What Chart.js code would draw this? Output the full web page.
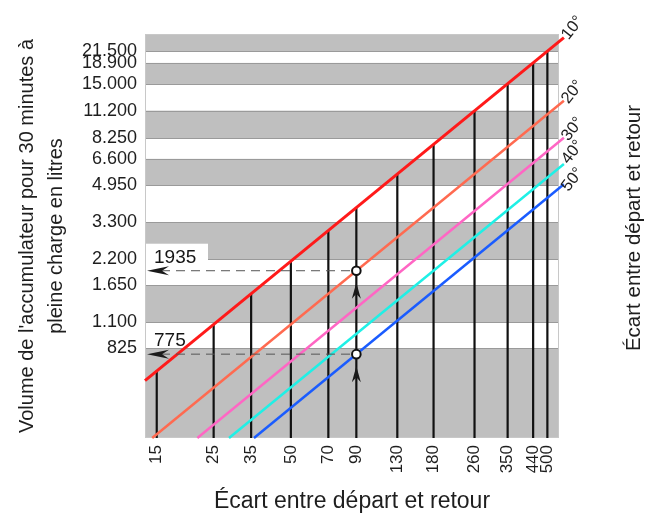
<!DOCTYPE html>
<html>
<head>
<meta charset="utf-8">
<script src="https://cdn.jsdelivr.net/npm/chart.js@4.4.1/dist/chart.umd.min.js"></script>
<style>
html,body{margin:0;padding:0;background:#fff;}
#c{display:block;}
</style>
</head>
<body>
<canvas id="c" width="658" height="515"></canvas>
<script>
// ---- data ----
const xTicks = [15, 25, 35, 50, 70, 90, 130, 180, 260, 350, 440, 500];
const yTicks = [21500, 18900, 15000, 11200, 8250, 6600, 4950, 3300, 2200, 1650, 1100, 825];
// top of each vertical drop line (where it meets the 10° line)
const dropTops = [645, 1075, 1505, 2150, 3010, 3870, 5590, 7740, 11180, 15050, 18920, 21500];
const seriesNames = ['10°', '20°', '30°', '40°', '50°'];
const line10 = [{x: 13.5, y: 580}, {x: 580, y: 24940}];
const line20 = [{x: 14.4, y: 309}, {x: 580, y: 12470}];
const line30 = [{x: 21.6, y: 309}, {x: 580, y: 8310}];
const line40 = [{x: 28.7, y: 309}, {x: 580, y: 6240}];
const line50 = [{x: 35.9, y: 309}, {x: 580, y: 4990}];
const markX = 90;
const markValues = [1935, 775];
const yTitle = ["Volume de l'accumulateur pour 30 minutes à", 'pleine charge en litres'];
const xTitle = 'Écart entre départ et retour';
const rightTitle = 'Écart entre départ et retour';

// ---- styles ----
const X_MIN = 13.5, X_MAX = 555, Y_MIN = 309, Y_MAX = 25950;
const lineColors = ['#ff1a1a', '#ff6a50', '#ff66c4', '#1ff0e6', '#1a5cff'];
const lineWidths = [3, 2.5, 2.5, 2.5, 2.5];
const labelNudge = [-1, 0, 0, -3, 4];
const FONT = "'Liberation Sans', Arial, Helvetica, sans-serif";
Chart.defaults.font.family = FONT;
Chart.defaults.color = '#1e1e1e';

const allLines = [line10, line20, line30, line40, line50];

const datasets = allLines.map((d, i) => ({
  label: seriesNames[i],
  data: d,
  borderColor: lineColors[i],
  borderWidth: lineWidths[i],
  pointRadius: 0,
  tension: 0,
  clip: false,
  fill: false
}));
xTicks.forEach((x, i) => {
  datasets.push({
    label: 'drop' + x,
    data: [{x: x, y: Y_MIN}, {x: x, y: dropTops[i]}],
    borderColor: '#111111',
    borderWidth: 2.2,
    pointRadius: 0,
    fill: false
  });
});

function fmt(v) {
  return String(Math.round(v)).replace(/\B(?=(\d{3})+(?!\d))/g, '.');
}

const bandsPlugin = {
  id: 'bands',
  beforeDatasetsDraw(chart) {
    const {ctx, chartArea: a, scales: {y}} = chart;
    ctx.save();
    const edges = [a.top].concat(yTicks.map(v => y.getPixelForValue(v))).concat([a.bottom]);
    ctx.fillStyle = '#bfbfbf';
    for (let i = 0; i < edges.length - 1; i += 2) {
      ctx.fillRect(a.left, edges[i], a.right - a.left, edges[i + 1] - edges[i]);
    }
    ctx.strokeStyle = '#9a9a9a';
    ctx.lineWidth = 1;
    yTicks.forEach(v => {
      const py = Math.round(y.getPixelForValue(v)) + 0.5;
      ctx.beginPath(); ctx.moveTo(a.left, py); ctx.lineTo(a.right, py); ctx.stroke();
    });
    ctx.strokeStyle = '#c8c8c8';
    ctx.strokeRect(a.left + 0.5, a.top + 0.5, a.right - a.left - 1, a.bottom - a.top - 1);
    ctx.restore();
  }
};

const annotPlugin = {
  id: 'annot',
  afterDatasetsDraw(chart) {
    const {ctx, chartArea: a, scales: {x, y}} = chart;
    ctx.save();
    const px = x.getPixelForValue(markX);
    markValues.forEach((v, k) => {
      const py = y.getPixelForValue(v);
      // label box + text
      if (k === 0) {
        ctx.fillStyle = '#ffffff';
        ctx.fillRect(a.left + 1, py - 27, 62, 19);
      }
      ctx.fillStyle = '#151515';
      ctx.font = '19px ' + FONT;
      ctx.textAlign = 'left';
      ctx.textBaseline = 'alphabetic';
      ctx.fillText(String(v), a.left + 9, py - 8);
      // dashed leader
      ctx.strokeStyle = '#555';
      ctx.lineWidth = 1;
      ctx.setLineDash([9, 6]);
      ctx.beginPath(); ctx.moveTo(a.left + 16, py); ctx.lineTo(px - 5, py); ctx.stroke();
      ctx.setLineDash([]);
      // left arrowhead
      const tx = a.left + 2;
      ctx.fillStyle = '#1a1a1a';
      ctx.beginPath();
      ctx.moveTo(tx, py);
      ctx.lineTo(tx + 22, py - 4.5);
      ctx.lineTo(tx + 15, py);
      ctx.lineTo(tx + 22, py + 4.5);
      ctx.closePath(); ctx.fill();
      // upward arrowhead on the vertical line
      const ty = py + 12;
      ctx.beginPath();
      ctx.moveTo(px, ty);
      ctx.lineTo(px - 4.5, ty + 16);
      ctx.lineTo(px, ty + 11);
      ctx.lineTo(px + 4.5, ty + 16);
      ctx.closePath(); ctx.fill();
      // circle
      ctx.beginPath();
      ctx.arc(px, py, 4.3, 0, Math.PI * 2);
      ctx.fillStyle = '#ffffff'; ctx.fill();
      ctx.strokeStyle = '#111'; ctx.lineWidth = 2; ctx.stroke();
    });
    // series end labels
    ctx.fillStyle = '#1e1e1e';
    ctx.font = '16.5px ' + FONT;
    ctx.textAlign = 'left';
    ctx.textBaseline = 'middle';
    allLines.forEach((d, i) => {
      const p = d[d.length - 1];
      const ex = x.getPixelForValue(p.x), ey = y.getPixelForValue(p.y);
      ctx.save();
      ctx.translate(ex + 1, ey + 1 + labelNudge[i]);
      ctx.rotate(-52 * Math.PI / 180);
      ctx.fillText(seriesNames[i], 0, 0);
      ctx.restore();
    });
    // right side title
    ctx.save();
    ctx.font = '20.5px ' + FONT;
    ctx.textAlign = 'center';
    ctx.textBaseline = 'middle';
    ctx.translate(634, (a.top + a.bottom) / 2 - 8);
    ctx.rotate(-Math.PI / 2);
    ctx.fillText(rightTitle, 0, 0);
    ctx.restore();
    ctx.restore();
  }
};

new Chart(document.getElementById('c'), {
  type: 'line',
  data: {datasets},
  options: {
    responsive: false,
    animation: false,
    devicePixelRatio: 1,
    layout: {padding: {left: 0, top: 34, right: 99, bottom: 0}},
    plugins: {legend: {display: false}, tooltip: {enabled: false}},
    scales: {
      x: {
        type: 'logarithmic',
        min: X_MIN, max: X_MAX,
        border: {display: false},
        grid: {display: false, drawTicks: false},
        afterBuildTicks: s => { s.ticks = xTicks.map(v => ({value: v})); },
        afterFit: s => { s.height = 77; },
        ticks: {
          autoSkip: false, minRotation: 90, maxRotation: 90, padding: 7,
          font: {size: 17}, color: '#1e1e1e',
          callback: v => String(v)
        },
        title: {display: true, text: xTitle, font: {size: 23, lineHeight: 1.2}, padding: {top: 0, bottom: 0}, color: '#1e1e1e'}
      },
      y: {
        type: 'logarithmic',
        min: Y_MIN, max: Y_MAX,
        border: {display: false},
        grid: {display: false, drawTicks: false},
        afterBuildTicks: s => { s.ticks = yTicks.map(v => ({value: v})); },
        afterFit: s => { s.width = 145; },
        ticks: {
          autoSkip: false, padding: 8,
          font: {size: 18}, color: '#1e1e1e',
          callback: v => fmt(v)
        },
        title: {display: true, text: yTitle, font: {size: 20, lineHeight: 1.45}, padding: {top: 13, bottom: 0}, color: '#1e1e1e'}
      }
    }
  },
  plugins: [bandsPlugin, annotPlugin]
});
</script>
</body>
</html>
